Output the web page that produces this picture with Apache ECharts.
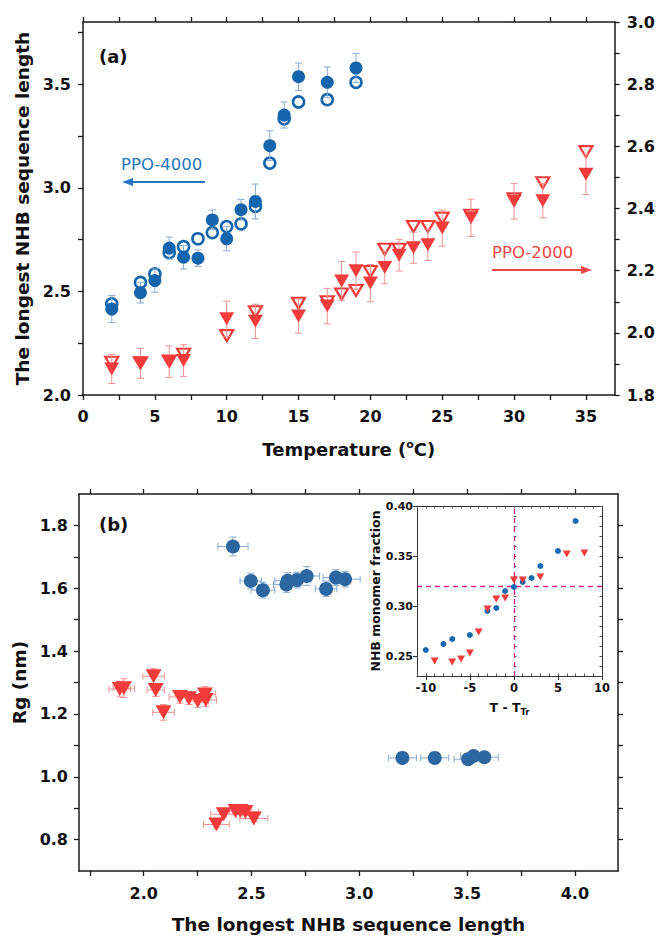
<!DOCTYPE html>
<html>
<head>
<meta charset="utf-8">
<script src="https://cdn.jsdelivr.net/npm/echarts@6/dist/echarts.min.js"></script>
<style>
  html, body { margin: 0; padding: 0; background: #fff; }
  #chart { width: 658px; height: 936px; }
</style>
</head>
<body>
<div id="chart"></div>
<script>
// ---- panel (a): longest NHB sequence length vs temperature ----
const temps4000 = [2, 4, 5, 6, 7, 8, 9, 10, 11, 12, 13, 14, 15, 17, 19];
const ppo4000Filled = [2.415, 2.494, 2.552, 2.709, 2.665, 2.66, 2.845, 2.754, 2.894, 2.934, 3.203, 3.351, 3.536, 3.509, 3.578];
const ppo4000FilledErr = [0.065, 0.05, 0.056, 0.053, 0.057, 0.04, 0.048, 0.058, 0.05, 0.084, 0.072, 0.063, 0.066, 0.074, 0.07];
const ppo4000Open = [2.44, 2.543, 2.584, 2.687, 2.716, 2.754, 2.784, 2.813, 2.826, 2.91, 3.119, 3.333, 3.414, 3.425, 3.509];

const temps2000 = [2, 4, 6, 7, 10, 12, 15, 17, 18, 19, 20, 21, 22, 23, 24, 25, 27, 30, 32, 35];
const ppo2000Filled = [1.884, 1.902, 1.907, 1.911, 2.045, 2.037, 2.054, 2.086, 2.167, 2.2, 2.16, 2.21, 2.25, 2.274, 2.283, 2.337, 2.37, 2.423, 2.425, 2.51];
const ppo2000FilledErr = [0.047, 0.048, 0.051, 0.051, 0.057, 0.055, 0.055, 0.057, 0.062, 0.06, 0.06, 0.052, 0.051, 0.05, 0.05, 0.058, 0.06, 0.057, 0.055, 0.065];
const ppo2000Open = [1.905, 1.904, 1.909, 1.931, 1.991, 2.068, 2.095, 2.1, 2.125, 2.136, 2.197, 2.269, 2.269, 2.342, 2.342, 2.369, 2.378, 2.431, 2.483, 2.583];

const tempLabels = [0, 5, 10, 15, 20, 25, 30, 35];
const tempTicks = [0, 2.5, 5, 7.5, 10, 12.5, 15, 17.5, 20, 22.5, 25, 27.5, 30, 32.5, 35];
const lenLabels = [2.0, 2.5, 3.0, 3.5];
const lenTicks = [2.0, 2.25, 2.5, 2.75, 3.0, 3.25, 3.5, 3.75];
const len2000Labels = [1.8, 2.0, 2.2, 2.4, 2.6, 2.8, 3.0];
const len2000Ticks = [1.8, 1.9, 2.0, 2.1, 2.2, 2.3, 2.4, 2.5, 2.6, 2.7, 2.8, 2.9, 3.0];

// ---- panel (b): Rg vs longest NHB sequence length [x, y, xErr, yErr] ----
const rg4000Len = [2.414, 2.497, 2.553, 2.662, 2.668, 2.711, 2.756, 2.846, 2.892, 2.934, 3.2, 3.35, 3.505, 3.53, 3.58];
const rg4000 = [1.733, 1.623, 1.594, 1.612, 1.624, 1.626, 1.639, 1.598, 1.634, 1.629, 1.06, 1.06, 1.056, 1.066, 1.062];
const rg4000LenErr = [0.07, 0.05, 0.055, 0.06, 0.06, 0.065, 0.06, 0.05, 0.06, 0.07, 0.065, 0.065, 0.065, 0.06, 0.065];
const rg4000Err = [0.03, 0.025, 0.025, 0.025, 0.025, 0.025, 0.03, 0.025, 0.025, 0.025, 0.01, 0.01, 0.01, 0.01, 0.01];

const rg2000Len = [1.889, 1.908, 2.046, 2.056, 2.092, 2.168, 2.21, 2.251, 2.284, 2.288, 2.337, 2.371, 2.426, 2.449, 2.472, 2.511];
const rg2000 = [1.279, 1.282, 1.32, 1.276, 1.205, 1.254, 1.25, 1.241, 1.262, 1.244, 0.848, 0.881, 0.891, 0.891, 0.888, 0.867];
const rg2000LenErr = [0.05, 0.05, 0.05, 0.04, 0.05, 0.05, 0.05, 0.05, 0.05, 0.05, 0.06, 0.06, 0.06, 0.05, 0.06, 0.065];
const rg2000Err = [0.025, 0.03, 0.025, 0.02, 0.025, 0.02, 0.02, 0.02, 0.025, 0.02, 0.01, 0.01, 0.01, 0.01, 0.01, 0.01];

const rgLabels = [0.8, 1.0, 1.2, 1.4, 1.6, 1.8];
const rgTicks = [0.8, 0.9, 1.0, 1.1, 1.2, 1.3, 1.4, 1.5, 1.6, 1.7, 1.8];
const lenBLabels = [2.0, 2.5, 3.0, 3.5, 4.0];
const lenBTicks = [1.75, 2.0, 2.25, 2.5, 2.75, 3.0, 3.25, 3.5, 3.75, 4.0];

// ---- inset: NHB monomer fraction vs T - T_Tr ----
const insetBlueT = [-10, -8, -7, -5, -3, -2, -1, 0, 1, 2, 3, 5, 7];
const insetBlueFrac = [0.256, 0.262, 0.267, 0.271, 0.295, 0.298, 0.315, 0.319, 0.324, 0.328, 0.34, 0.355, 0.385];
const insetRedT = [-9, -7, -6, -5, -4, -3, -2, -1, 0, 1, 3, 6, 8];
const insetRedFrac = [0.245, 0.244, 0.247, 0.253, 0.274, 0.297, 0.307, 0.308, 0.326, 0.326, 0.329, 0.352, 0.353];
const crossT = 0;
const crossFrac = 0.32;

const insetTLabels = [-10, -5, 0, 5, 10];
const insetTMinor = [-11, -10, -9, -8, -7, -6, -5, -4, -3, -2, -1, 0, 1, 2, 3, 4, 5, 6, 7, 8, 9, 10];
const insetFracLabels = [0.25, 0.30, 0.35, 0.40];
const insetFracMinor = [0.23, 0.24, 0.25, 0.26, 0.27, 0.28, 0.29, 0.30, 0.31, 0.32, 0.33, 0.34, 0.35, 0.36, 0.37, 0.38, 0.39, 0.40];

const FONT = 'DejaVu Sans';
const BLUE_A = '#1565ac';
const BLUE_B = '#2d67a1';
const RED = '#f33b3b';
const BLUE_ERR = '#86acd0';
const RED_ERR = '#f29292';

function pairs(xs, ys) {
  const out = [];
  xs.forEach((x, i) => { if (ys[i] != null) out.push([x, ys[i]]); });
  return out;
}
function rows(xs, ys, xe, ye) {
  return xs.map((x, i) => [x, ys[i], xe ? xe[i] : 0, ye ? ye[i] : 0]);
}

function renderErrorBar(params, api) {
  const x = api.value(0), y = api.value(1), ex = api.value(2), ey = api.value(3);
  const color = api.visual('color');
  const style = { stroke: color, lineWidth: 1, fill: null };
  const cap = 3.5;
  const kids = [];
  if (ey > 0) {
    const p1 = api.coord([x, y + ey]), p2 = api.coord([x, y - ey]);
    kids.push({ type: 'line', shape: { x1: p1[0], y1: p1[1], x2: p2[0], y2: p2[1] }, style });
    kids.push({ type: 'line', shape: { x1: p1[0] - cap, y1: p1[1], x2: p1[0] + cap, y2: p1[1] }, style });
    kids.push({ type: 'line', shape: { x1: p2[0] - cap, y1: p2[1], x2: p2[0] + cap, y2: p2[1] }, style });
  }
  if (ex > 0) {
    const p1 = api.coord([x - ex, y]), p2 = api.coord([x + ex, y]);
    kids.push({ type: 'line', shape: { x1: p1[0], y1: p1[1], x2: p2[0], y2: p2[1] }, style });
    kids.push({ type: 'line', shape: { x1: p1[0], y1: p1[1] - cap, x2: p1[0], y2: p1[1] + cap }, style });
    kids.push({ type: 'line', shape: { x1: p2[0], y1: p2[1] - cap, x2: p2[0], y2: p2[1] + cap }, style });
  }
  return { type: 'group', children: kids };
}

const lineStyle = { color: '#1a1a1a', width: 1.5 };
const labelStyle = { fontFamily: FONT, fontWeight: 'bold', fontSize: 16, color: '#111' };
const nameStyle = { fontFamily: FONT, fontWeight: 'bold', fontSize: 18.5, color: '#111' };

function axis(opts) {
  const base = {
    type: 'value',
    splitLine: { show: false },
    axisLine: { show: true, onZero: false, lineStyle },
    axisTick: { show: true, length: 5, lineStyle: { width: 1.3, color: '#1a1a1a' } },
    axisLabel: { show: false }
  };
  return Object.assign(base, opts, {
    axisTick: Object.assign({}, base.axisTick, opts.axisTick || {}),
    axisLabel: Object.assign({}, base.axisLabel, opts.axisLabel || {})
  });
}

const chart = echarts.init(document.getElementById('chart'), null, { renderer: 'svg' });

const option = {
  backgroundColor: '#fff',
  animation: false,
  grid: [
    { left: 83, top: 22, width: 532, height: 373 },
    { left: 79, top: 494, width: 539, height: 377 },
    { left: 417, top: 506, width: 185, height: 170 }
  ],
  xAxis: [
    axis({ gridIndex: 0, position: 'bottom', min: 0, max: 37,
      axisTick: { customValues: tempTicks },
      axisLabel: Object.assign({ show: true, margin: 13, customValues: tempLabels }, labelStyle),
      name: '{n|Temperature (}{s|o}{n|C)}', nameLocation: 'middle', nameGap: 44,
      nameTextStyle: { rich: {
        n: { fontFamily: FONT, fontWeight: 'bold', fontSize: 18, color: '#111' },
        s: { fontFamily: FONT, fontWeight: 'bold', fontSize: 11, color: '#111', padding: [0, 0, 9, 0] }
      } } }),
    axis({ gridIndex: 0, position: 'top', min: 0, max: 37, axisTick: { customValues: tempTicks } }),
    axis({ gridIndex: 1, position: 'bottom', min: 1.7, max: 4.2,
      axisTick: { customValues: lenBTicks },
      axisLabel: Object.assign({ show: true, margin: 14, customValues: lenBLabels, formatter: v => v.toFixed(1) }, labelStyle),
      name: 'The longest NHB sequence length', nameLocation: 'middle', nameGap: 44, nameTextStyle: nameStyle }),
    axis({ gridIndex: 1, position: 'top', min: 1.7, max: 4.2, axisTick: { customValues: lenBTicks } }),
    axis({ gridIndex: 2, position: 'bottom', min: -11, max: 10,
      axisTick: { customValues: insetTLabels, length: 4, lineStyle: { width: 1 } },
      axisLine: { show: true, onZero: false, lineStyle: { color: '#333', width: 1 } },
      axisLabel: { show: true, margin: 6, customValues: insetTLabels, fontFamily: FONT, fontWeight: 'bold', fontSize: 11.5, color: '#111' },
      name: '{n|T - T}{s|Tr}', nameLocation: 'middle', nameGap: 23,
      nameTextStyle: { rich: {
        n: { fontFamily: FONT, fontWeight: 'bold', fontSize: 12.5, color: '#111' },
        s: { fontFamily: FONT, fontWeight: 'bold', fontSize: 8.5, color: '#111', padding: [8, 0, 0, 0] }
      } } }),
    axis({ gridIndex: 2, position: 'bottom', min: -11, max: 10,
      axisLine: { show: false },
      axisTick: { customValues: insetTMinor, inside: true, length: 2.5, lineStyle: { width: 1, color: '#555' } } }),
    axis({ gridIndex: 2, position: 'top', min: -11, max: 10,
      axisLine: { show: true, onZero: false, lineStyle: { color: '#333', width: 1 } },
      axisTick: { customValues: insetTMinor, inside: true, length: 2.5, lineStyle: { width: 1, color: '#555' } } })
  ],
  yAxis: [
    axis({ gridIndex: 0, position: 'left', min: 2.0, max: 3.8,
      axisTick: { customValues: lenTicks },
      axisLabel: Object.assign({ show: true, margin: 12, customValues: lenLabels, formatter: v => v.toFixed(1) }, labelStyle),
      name: 'The longest NHB sequence length', nameLocation: 'middle', nameGap: 46, nameTextStyle: nameStyle }),
    axis({ gridIndex: 0, position: 'right', min: 1.8, max: 3.0,
      axisTick: { customValues: len2000Ticks },
      axisLabel: Object.assign({ show: true, margin: 12, customValues: len2000Labels, formatter: v => v.toFixed(1) }, labelStyle) }),
    axis({ gridIndex: 1, position: 'left', min: 0.7, max: 1.9,
      axisTick: { customValues: rgTicks },
      axisLabel: Object.assign({ show: true, margin: 11, customValues: rgLabels, formatter: v => v.toFixed(1) }, labelStyle),
      name: 'Rg (nm)', nameLocation: 'middle', nameGap: 48, nameTextStyle: nameStyle }),
    axis({ gridIndex: 1, position: 'right', min: 0.7, max: 1.9, axisTick: { customValues: rgTicks } }),
    axis({ gridIndex: 2, position: 'left', min: 0.23, max: 0.40,
      axisTick: { customValues: insetFracLabels, length: 4, lineStyle: { width: 1 } },
      axisLine: { show: true, onZero: false, lineStyle: { color: '#333', width: 1 } },
      axisLabel: { show: true, margin: 4, customValues: insetFracLabels, formatter: v => v.toFixed(2), fontFamily: FONT, fontWeight: 'bold', fontSize: 11, color: '#111' },
      name: 'NHB monomer fraction', nameLocation: 'middle', nameGap: 30,
      nameTextStyle: { fontFamily: FONT, fontWeight: 'bold', fontSize: 12.5, color: '#111' } }),
    axis({ gridIndex: 2, position: 'left', min: 0.23, max: 0.40,
      axisLine: { show: false },
      axisTick: { customValues: insetFracMinor, inside: true, length: 2.5, lineStyle: { width: 1, color: '#555' } } }),
    axis({ gridIndex: 2, position: 'right', min: 0.23, max: 0.40,
      axisLine: { show: true, onZero: false, lineStyle: { color: '#333', width: 1 } },
      axisTick: { customValues: insetFracMinor, inside: true, length: 2.5, lineStyle: { width: 1, color: '#555' } } })
  ],
  graphic: [
    { type: 'text', left: 99, top: 47, style: { text: '(a)', font: 'bold 18px "DejaVu Sans"', fill: '#111' } },
    { type: 'text', left: 99, top: 515, style: { text: '(b)', font: 'bold 18px "DejaVu Sans"', fill: '#111' } },
    { type: 'text', left: 121, top: 156, style: { text: 'PPO-4000', font: '16.5px "DejaVu Sans"', fill: '#2477c0' } },
    { type: 'line', shape: { x1: 205, y1: 182, x2: 130, y2: 182 }, style: { stroke: '#2477c0', lineWidth: 2 } },
    { type: 'polygon', shape: { points: [[122, 182], [133, 178], [133, 186]] }, style: { fill: '#2477c0' } },
    { type: 'text', left: 492, top: 244, style: { text: 'PPO-2000', font: '16.5px "DejaVu Sans"', fill: '#f04646' } },
    { type: 'line', shape: { x1: 492, y1: 270, x2: 583, y2: 270 }, style: { stroke: '#f04646', lineWidth: 2 } },
    { type: 'polygon', shape: { points: [[592, 270], [581, 266], [581, 274]] }, style: { fill: '#f04646' } }
  ],
  series: [
    // panel (a)
    { type: 'scatter', xAxisIndex: 0, yAxisIndex: 0, z: 2, symbol: 'circle', symbolSize: 11,
      itemStyle: { color: '#fff', borderColor: BLUE_A, borderWidth: 2.6, opacity: 1 },
      data: pairs(temps4000, ppo4000Open) },
    { type: 'scatter', xAxisIndex: 0, yAxisIndex: 1, z: 2, symbol: 'triangle', symbolRotate: 180, symbolSize: [13, 11],
      itemStyle: { color: '#fff', borderColor: RED, borderWidth: 2.2, opacity: 1 },
      data: pairs(temps2000, ppo2000Open) },
    { type: 'custom', xAxisIndex: 0, yAxisIndex: 0, z: 3, renderItem: renderErrorBar,
      itemStyle: { color: BLUE_ERR }, encode: { x: 0, y: 1 },
      data: rows(temps4000, ppo4000Filled, null, ppo4000FilledErr) },
    { type: 'custom', xAxisIndex: 0, yAxisIndex: 1, z: 3, renderItem: renderErrorBar,
      itemStyle: { color: RED_ERR }, encode: { x: 0, y: 1 },
      data: rows(temps2000, ppo2000Filled, null, ppo2000FilledErr) },
    { type: 'scatter', xAxisIndex: 0, yAxisIndex: 0, z: 4, symbol: 'circle', symbolSize: 13,
      itemStyle: { color: BLUE_A, opacity: 1 },
      data: pairs(temps4000, ppo4000Filled) },
    { type: 'scatter', xAxisIndex: 0, yAxisIndex: 1, z: 4, symbol: 'triangle', symbolRotate: 180, symbolSize: [15, 13],
      itemStyle: { color: RED, opacity: 1 },
      data: pairs(temps2000, ppo2000Filled) },
    // panel (b)
    { type: 'custom', xAxisIndex: 2, yAxisIndex: 2, z: 3, renderItem: renderErrorBar,
      itemStyle: { color: BLUE_ERR }, encode: { x: 0, y: 1 },
      data: rows(rg4000Len, rg4000, rg4000LenErr, rg4000Err) },
    { type: 'custom', xAxisIndex: 2, yAxisIndex: 2, z: 3, renderItem: renderErrorBar,
      itemStyle: { color: RED_ERR }, encode: { x: 0, y: 1 },
      data: rows(rg2000Len, rg2000, rg2000LenErr, rg2000Err) },
    { type: 'scatter', xAxisIndex: 2, yAxisIndex: 2, z: 4, symbol: 'circle', symbolSize: 14,
      itemStyle: { color: BLUE_B, opacity: 1 },
      data: pairs(rg4000Len, rg4000) },
    { type: 'scatter', xAxisIndex: 2, yAxisIndex: 2, z: 4, symbol: 'triangle', symbolRotate: 180, symbolSize: [16, 14],
      itemStyle: { color: RED, opacity: 1 },
      data: pairs(rg2000Len, rg2000) },
    // inset
    { type: 'scatter', xAxisIndex: 4, yAxisIndex: 4, z: 5, symbol: 'circle', symbolSize: 6,
      itemStyle: { color: '#1668b2', opacity: 1 },
      data: pairs(insetBlueT, insetBlueFrac),
      markLine: {
        silent: true, symbol: 'none', label: { show: false },
        lineStyle: { type: [5, 4], color: '#e5197f', width: 1.3 },
        data: [{ xAxis: crossT }, { yAxis: crossFrac }]
      } },
    { type: 'scatter', xAxisIndex: 4, yAxisIndex: 4, z: 5, symbol: 'triangle', symbolRotate: 180, symbolSize: [8, 7],
      itemStyle: { color: RED, opacity: 1 },
      data: pairs(insetRedT, insetRedFrac) }
  ]
};

chart.setOption(option);
</script>
</body>
</html>
